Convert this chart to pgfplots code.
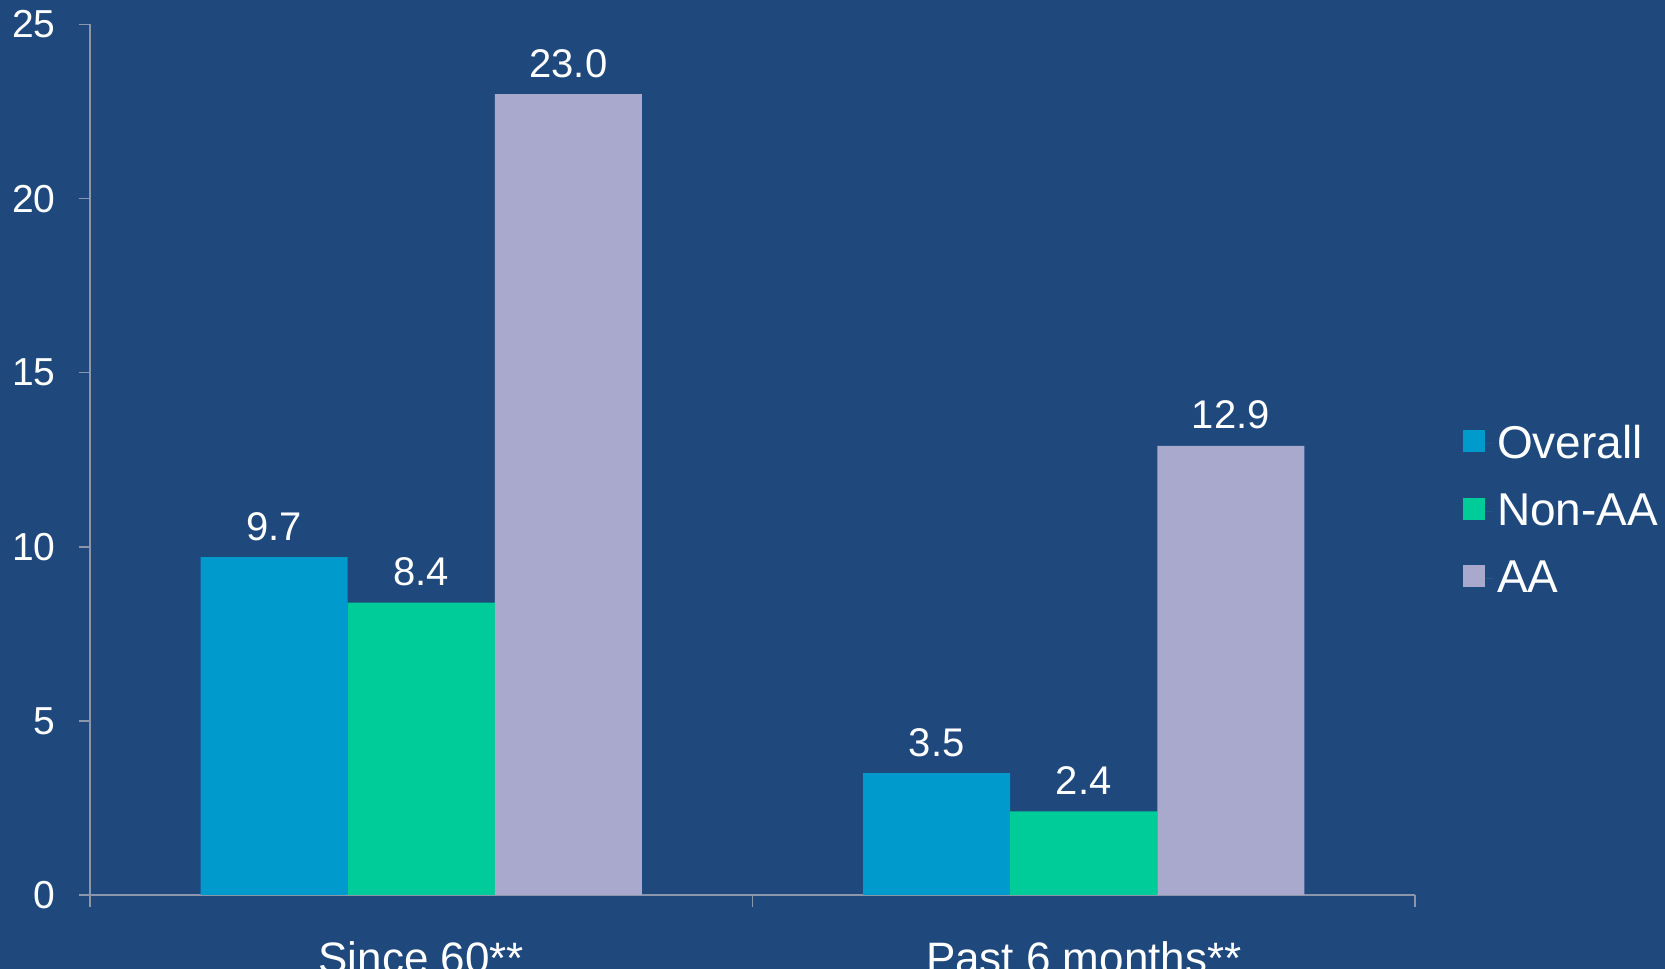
\documentclass[border=0pt]{standalone}
\usepackage{fontspec}
\setmainfont{Liberation Sans}
\usepackage{pgfplots}
\pgfplotsset{compat=1.18}

\definecolor{bg}{RGB}{31,73,125}
\definecolor{overall}{RGB}{0,155,204}
\definecolor{nonaa}{RGB}{0,204,153}
\definecolor{aa}{RGB}{169,169,206}
\definecolor{axisgray}{RGB}{140,150,170}

\begin{document}
\begin{tikzpicture}
\fill[bg] (-45pt,-37pt) rectangle (787.5pt,447.5pt);
\begin{axis}[
    at={(0,0)}, anchor=south west,
    scale only axis,
    width=662.5pt, height=435.25pt,
    ybar,
    bar width=0.222,
    xmin=-0.5, xmax=1.5,
    ymin=0, ymax=25,
    xtick={0,1},
    xticklabels={Since 60**, Past 6 months**},
    minor xtick={-0.5,0.5,1.5},
    ytick={0,5,...,25},
    axis x line*=bottom,
    axis y line*=left,
    axis line style={draw=axisgray, line width=0.8pt},
    tick align=outside,
    major tick length=5.5pt,
    minor tick length=6pt,
    major x tick style={draw=none},
    minor x tick style={draw=axisgray, line width=0.8pt},
    major y tick style={draw=axisgray, line width=0.8pt},
    /pgf/number format/assume math mode=true,
    ticklabel style={text=white},
    yticklabel style={font=\fontsize{19.5}{22}\selectfont, anchor=east, inner sep=0pt, xshift=-11.5pt},
    xticklabel style={font=\fontsize{22}{25}\selectfont, anchor=base, inner sep=0pt, yshift=-33.5pt},
    nodes near coords={\pgfmathprintnumber[fixed,fixed zerofill,precision=1]{\pgfplotspointmeta}},
    every node near coord/.append style={font=\fontsize{20}{23}\selectfont, text=white, anchor=base, inner sep=0pt, yshift=8.5pt},
    legend style={at={(1.0315,0.442)}, anchor=west, draw=none, fill=none,
        font=\fontsize{23}{26}\selectfont, text=white, row sep=12.2pt},
    legend cell align=left,
    legend image code/.code={\fill[#1] (0pt,-4.5pt) rectangle (11pt,6.5pt); \path (0pt,0pt) -- (15pt,0pt);},
]
\addplot[fill=overall, draw=none, bar shift=-0.222] coordinates {(0,9.7) (1,3.5)};
\addplot[fill=nonaa, draw=none, bar shift=0] coordinates {(0,8.4) (1,2.4)};
\addplot[fill=aa, draw=none, bar shift=0.222] coordinates {(0,23.0) (1,12.9)};
\legend{Overall, Non-AA, AA}
\end{axis}
\pgfresetboundingbox
\useasboundingbox (-45pt,-37pt) rectangle (787.5pt,447.5pt);
\end{tikzpicture}
\end{document}
